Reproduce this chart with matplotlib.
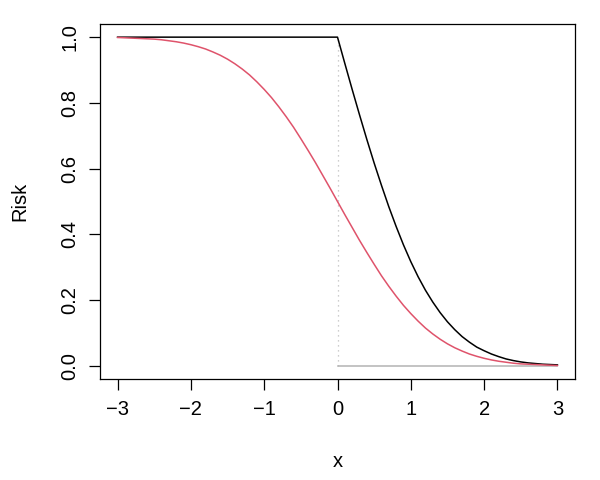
import numpy as np
import matplotlib
matplotlib.use('Agg')
import matplotlib.pyplot as plt

plt.rcParams['font.family'] = ['Liberation Sans', 'DejaVu Sans']

# x grid shared by the curves (read every 0.1)
x_all = np.round(np.arange(-30, 31) / 10.0, 1)

# red curve: smooth risk
red_y = [0.999, 0.998, 0.997, 0.996, 0.995, 0.994, 0.992, 0.989, 0.986, 0.982,
         0.977, 0.971, 0.964, 0.955, 0.945, 0.933, 0.919, 0.903, 0.885, 0.864,
         0.841, 0.816, 0.788, 0.758, 0.726, 0.691, 0.655, 0.618, 0.579, 0.540,
         0.500, 0.460, 0.421, 0.382, 0.345, 0.309, 0.274, 0.242, 0.212, 0.184,
         0.159, 0.136, 0.115, 0.097, 0.081, 0.067, 0.055, 0.045, 0.036, 0.029,
         0.023, 0.018, 0.014, 0.011, 0.008, 0.006, 0.005, 0.004, 0.003, 0.002,
         0.001]

# black curve: flat at 1 until 0, then falls
black_x = [-3.0] + list(x_all[30:])
black_y = [1.000, 1.000, 0.920, 0.841, 0.764, 0.689, 0.617, 0.549, 0.484, 0.424,
           0.368, 0.317, 0.271, 0.230, 0.194, 0.162, 0.134, 0.110, 0.089, 0.072,
           0.057, 0.046, 0.036, 0.028, 0.021, 0.016, 0.012, 0.009, 0.007, 0.005,
           0.004, 0.003]

# reference segments
vline_x = [0, 0]
vline_y = [0, 1]
hline_x = [0, 3]
hline_y = [0, 0]

xticks = [-3, -2, -1, 0, 1, 2, 3]
yticks = [0.0, 0.2, 0.4, 0.6, 0.8, 1.0]

fig = plt.figure(figsize=(6, 4.8), dpi=100)
ax = fig.add_axes([100 / 600, 101 / 480, 475 / 600, 355 / 480])

ax.plot(vline_x, vline_y, color='#BEBEBE', linewidth=0.9, linestyle=(0, (1, 3)))
ax.plot(hline_x, hline_y, color='#B3B3B3', linewidth=1.1)
ax.plot(black_x, black_y, color='black', linewidth=1.1)
ax.plot(x_all, red_y, color='#DF536B', linewidth=1.1)

ax.set_xlim(-3.24, 3.24)
ax.set_ylim(-0.04, 1.04)
ax.set_xticks(xticks)
ax.set_xticklabels([str(t).replace('-', '\u2212') for t in xticks])
ax.set_yticks(yticks)
ax.set_yticklabels([f'{t:.1f}' for t in yticks], rotation=90, va='center')

ax.tick_params(axis='both', direction='out', length=8, width=0.9, labelsize=14.5, pad=7)
for s in ax.spines.values():
    s.set_linewidth(0.9)

ax.set_xlabel('x', fontsize=14.5, labelpad=24)
ax.set_ylabel('Risk', fontsize=14.5, labelpad=22)

fig.savefig('out.png', dpi=100)
